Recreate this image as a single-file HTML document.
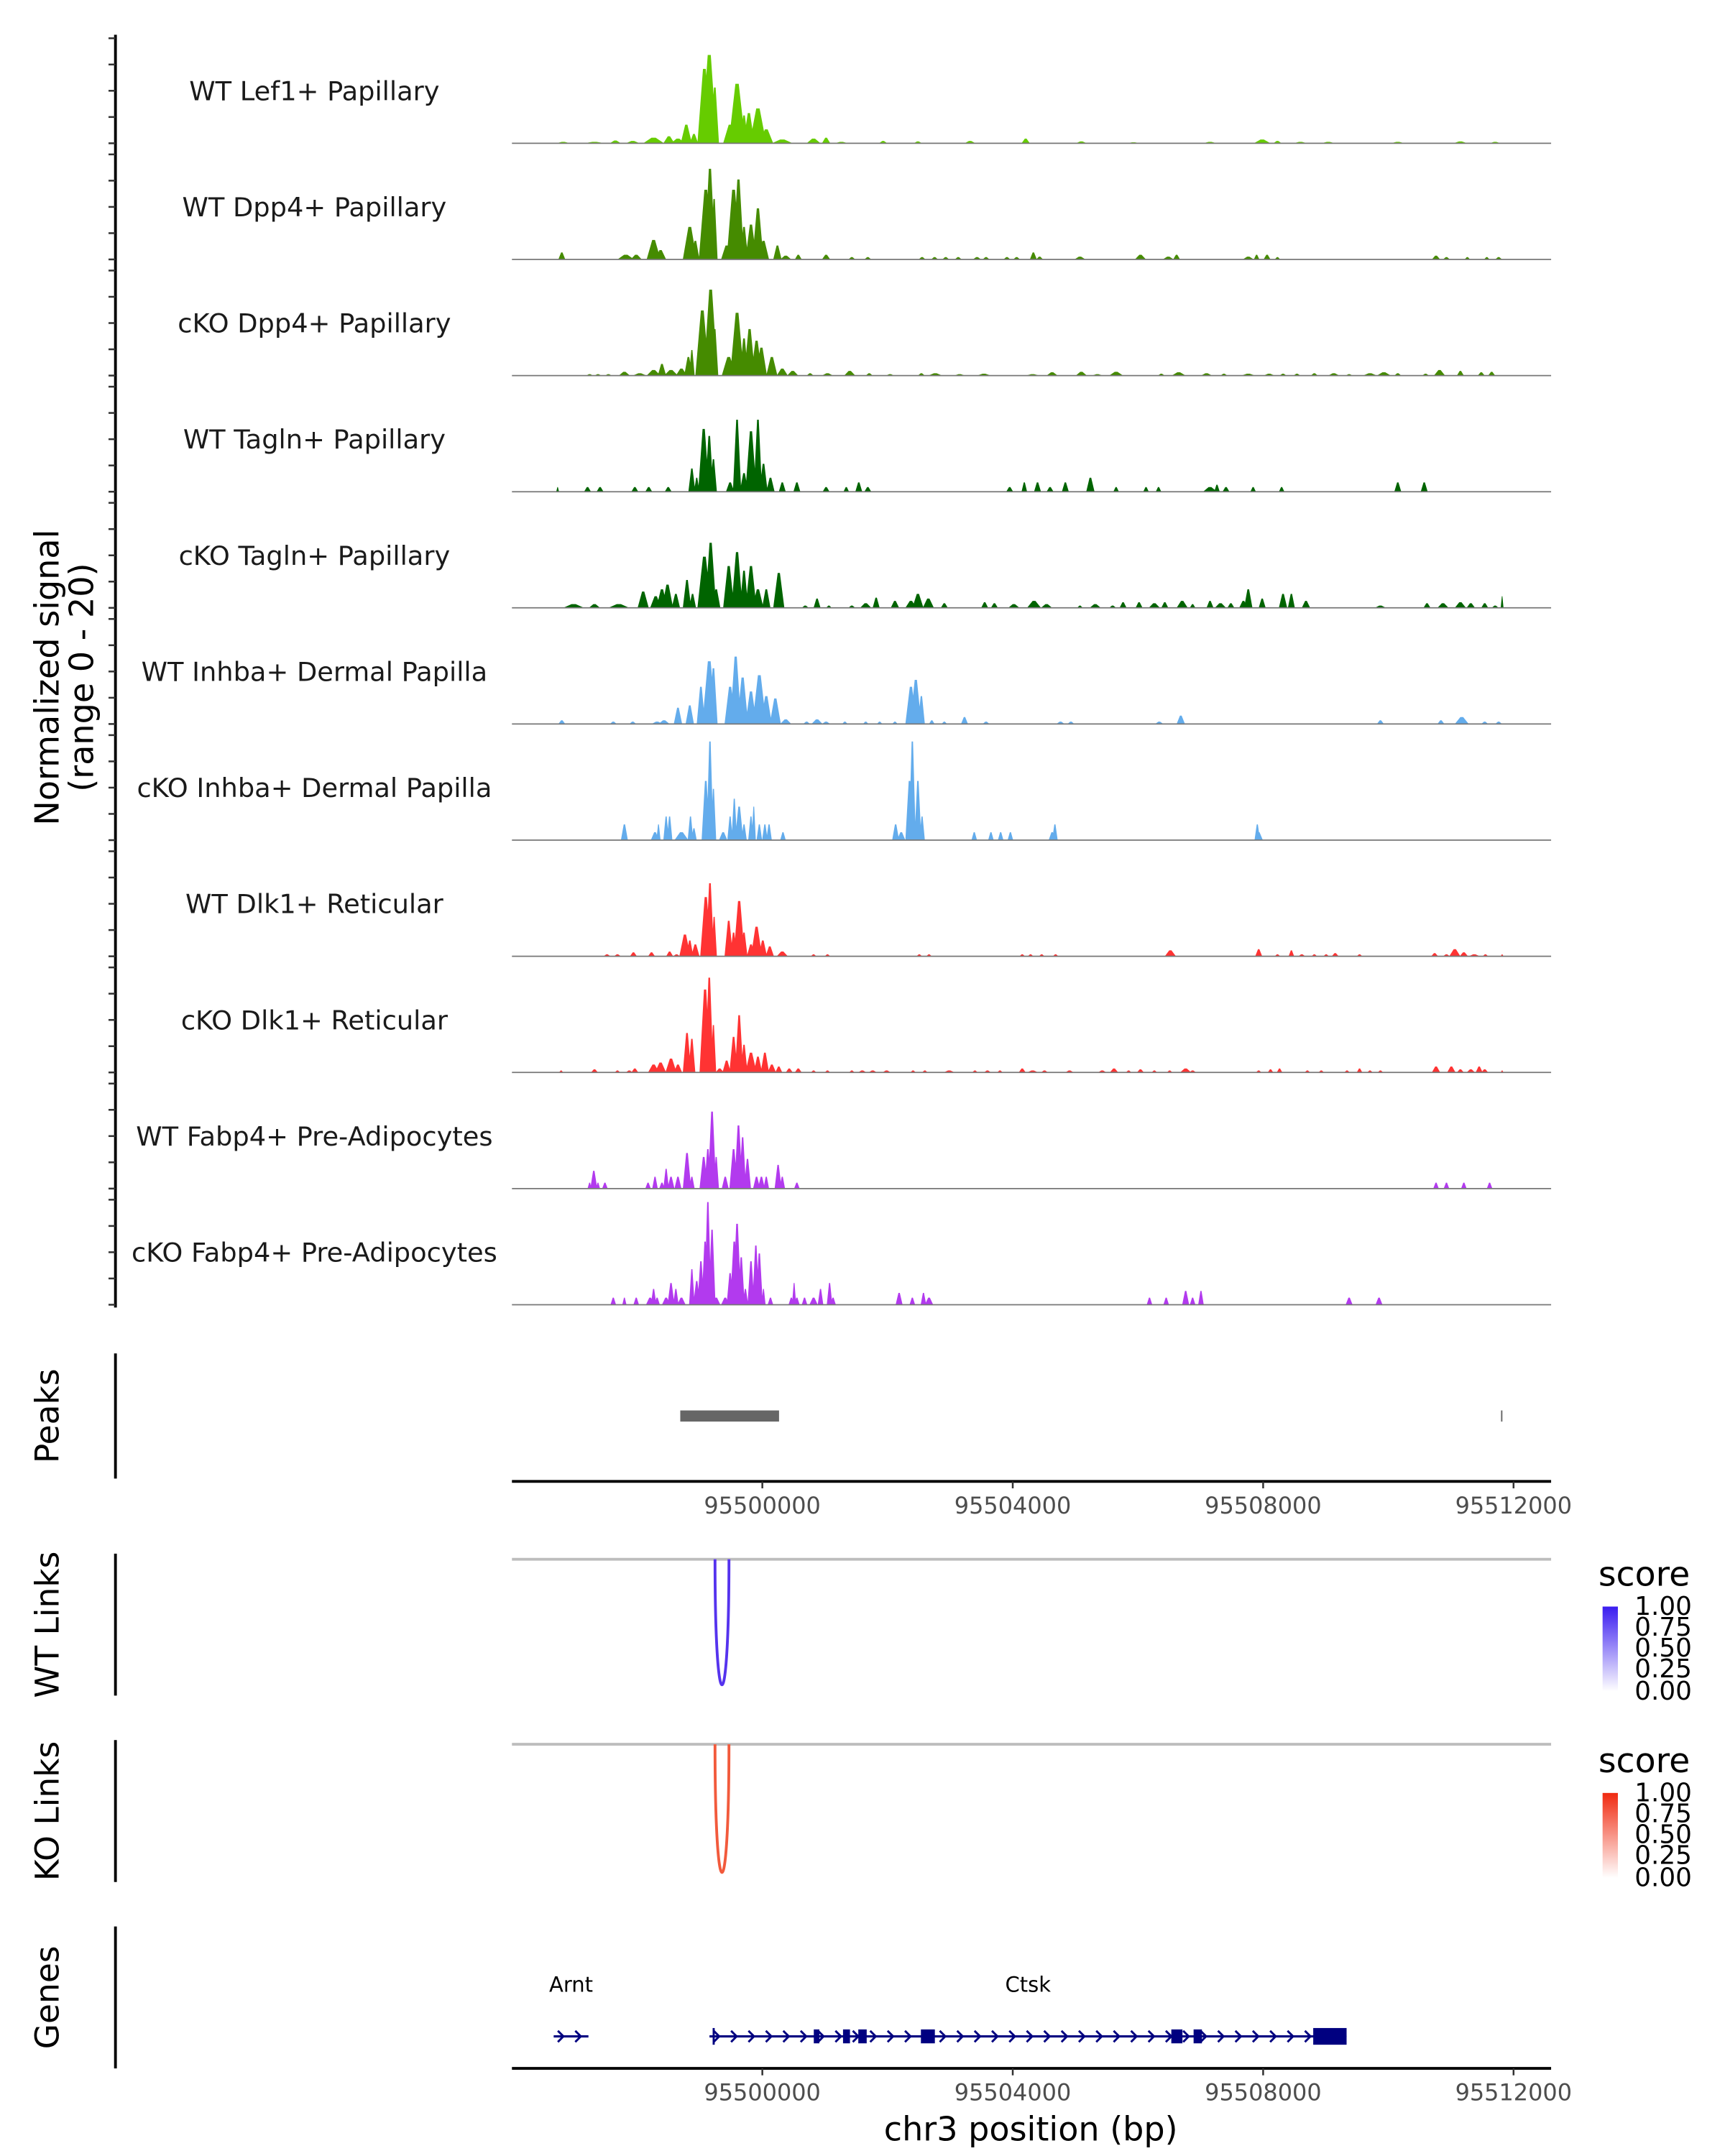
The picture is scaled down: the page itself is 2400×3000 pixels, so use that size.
<!DOCTYPE html>
<html><head><meta charset="utf-8">
<style>
html,body{margin:0;padding:0;background:#fff;}
svg{display:block;font-family:"DejaVu Sans","Liberation Sans",sans-serif;}
</style></head>
<body>
<svg id="chart" xmlns="http://www.w3.org/2000/svg" width="2400" height="3000" viewBox="0 0 1240 1550">
<rect x="0" y="0" width="1240" height="1550" fill="#fff"/>
<g id="tracks"></g>
<g id="leftaxis"></g>
<text transform="translate(42,487) rotate(-90)" text-anchor="middle" font-size="23.8" fill="#000">Normalized signal</text>
<text transform="translate(67,487) rotate(-90)" text-anchor="middle" font-size="23.8" fill="#000">(range 0 - 20)</text>

<line x1="83" y1="973" x2="83" y2="1063" stroke="#000" stroke-width="2"/>
<text transform="translate(42,1018) rotate(-90)" text-anchor="middle" font-size="23.5">Peaks</text>
<g id="peaks"></g>
<g id="xaxis1"></g>

<line x1="83" y1="1117" x2="83" y2="1219" stroke="#000" stroke-width="2"/>
<text transform="translate(42,1168) rotate(-90)" text-anchor="middle" font-size="23.5">WT Links</text>
<line x1="368" y1="1121" x2="1115" y2="1121" stroke="#bdbdbd" stroke-width="2"/>
<g id="wtlinks"></g>

<line x1="83" y1="1251" x2="83" y2="1353" stroke="#000" stroke-width="2"/>
<text transform="translate(42,1302) rotate(-90)" text-anchor="middle" font-size="23.5">KO Links</text>
<line x1="368" y1="1254" x2="1115" y2="1254" stroke="#bdbdbd" stroke-width="2"/>
<g id="kolinks"></g>

<defs>
<linearGradient id="gblue" x1="0" y1="1" x2="0" y2="0"><stop offset="0" stop-color="#ffffff"/><stop offset="1" stop-color="#3a1cf0"/></linearGradient>
<linearGradient id="gred" x1="0" y1="1" x2="0" y2="0"><stop offset="0" stop-color="#ffffff"/><stop offset="1" stop-color="#f02a10"/></linearGradient>
</defs>
<g>
<text x="1149" y="1140" font-size="24.5">score</text>
<rect x="1152" y="1155" width="11" height="61" fill="url(#gblue)"/>
<g font-size="18.5" fill="#000">
<text x="1175" y="1161">1.00</text>
<text x="1175" y="1176">0.75</text>
<text x="1175" y="1191">0.50</text>
<text x="1175" y="1206">0.25</text>
<text x="1175" y="1222">0.00</text>
</g></g>
<g>
<text x="1149" y="1274" font-size="24.5">score</text>
<rect x="1152" y="1289" width="11" height="61" fill="url(#gred)"/>
<g font-size="18.5" fill="#000">
<text x="1175" y="1295">1.00</text>
<text x="1175" y="1310">0.75</text>
<text x="1175" y="1325">0.50</text>
<text x="1175" y="1340">0.25</text>
<text x="1175" y="1356">0.00</text>
</g></g>

<line x1="83" y1="1385" x2="83" y2="1487" stroke="#000" stroke-width="2"/>
<text transform="translate(42,1436) rotate(-90)" text-anchor="middle" font-size="23.5">Genes</text>
<g id="genes"></g>
<g id="xaxis2"></g>
<text x="741" y="1539" text-anchor="middle" font-size="23.8">chr3 position (bp)</text>
</svg>
<script>
const trackNames=["WT Lef1+ Papillary","WT Dpp4+ Papillary","cKO Dpp4+ Papillary","WT Tagln+ Papillary","cKO Tagln+ Papillary","WT Inhba+ Dermal Papilla","cKO Inhba+ Dermal Papilla","WT Dlk1+ Reticular","cKO Dlk1+ Reticular","WT Fabp4+ Pre-Adipocytes","cKO Fabp4+ Pre-Adipocytes"];
const trackColors=["#66cc00","#458b00","#458b00","#006400","#006400","#63acec","#63acec","#ff3333","#ff3333","#b23aee","#b23aee"];
const trackMax=[226,226,226,226,226,226,266,266,266,266,266];
const xTicks=[95500000,95504000,95508000,95512000];
const xTickLabels=["95500000","95504000","95508000","95512000"];
// coverage peaks: bin index (11.11 bp bins from 95495930), value, half-width (bins)
const lef1Bin=[80,125,155,180,210,232,245,257,268,283,290,298,320,330,340,347,360,372,395,440,458,480,540,590,665,745,825,900,1010,1085,1107,1140,1180,1280,1370,1420];
const lef1Val=[3,3,6,5,12,15,10,40,20,160,190,120,40,128,60,65,75,30,8,10,12,3,5,4,5,10,4,2,3,8,5,3,3,3,4,3];
const lef1Hw=[10,15,8,10,15,8,10,8,6,10,11,6,10,12,6,8,12,10,15,10,6,10,6,6,8,6,8,10,10,12,6,10,10,10,10,8];
const dpp4wtBin=[78,170,185,210,220,262,270,285,291,297,315,325,332,340,350,360,368,388,400,418,458,495,518,596,614,630,648,675,688,718,732,756,765,823,910,950,962,1065,1077,1092,1107,1335,1350,1380,1408,1425];
const dpp4wtVal=[15,10,10,42,20,70,40,150,195,130,30,150,172,70,75,110,40,30,8,10,10,5,5,5,5,5,5,5,5,5,5,15,6,6,10,6,10,6,10,10,5,8,5,5,5,5];
const dpp4wtHw=[5,12,8,10,8,10,6,10,8,5,8,10,8,6,8,8,8,6,8,5,6,5,5,5,5,5,5,6,5,5,5,5,5,8,8,8,5,8,4,5,4,6,5,4,4,5];
const dpp4koBin=[118,130,145,168,190,210,222,235,250,260,265,280,292,298,318,330,340,348,358,365,380,395,410,435,460,492,520,550,595,615,650,685,755,783,825,848,875,940,965,1005,1030,1065,1095,1115,1135,1160,1188,1210,1240,1260,1280,1320,1340,1370,1400,1415];
const dpp4koVal=[3,3,3,8,5,12,25,12,15,40,55,140,185,100,40,135,80,100,75,60,40,15,10,5,5,10,5,3,5,5,3,4,3,7,8,3,8,4,7,5,4,4,4,4,4,5,5,3,5,7,5,4,12,10,7,8];
const dpp4koHw=[5,5,5,8,10,10,6,10,8,6,4,10,10,5,10,10,6,8,8,8,8,8,8,5,8,8,5,6,5,10,8,10,10,8,8,8,10,5,10,8,5,10,8,5,5,5,8,5,10,10,5,5,8,5,5,5];
const taglnwtBin=[72,115,133,183,203,231,265,272,282,290,296,320,330,340,350,360,368,378,395,416,458,487,505,518,722,743,762,780,802,838,875,918,936,1010,1020,1033,1072,1113,1280,1318];
const taglnwtVal=[10,10,10,10,10,10,50,30,135,120,70,20,155,40,130,155,60,30,20,20,10,10,20,10,10,20,20,10,20,30,10,10,10,10,15,10,10,10,20,20];
const taglnwtHw=[2,5,5,5,5,5,5,4,8,6,5,6,6,6,8,6,6,6,5,5,5,4,5,5,5,4,5,5,5,6,4,4,4,10,4,5,4,4,5,5];
const taglnkoBin=[95,125,160,195,213,222,230,242,258,266,283,292,300,318,330,340,350,360,372,390,428,445,462,495,515,530,557,580,590,605,628,686,700,728,757,775,823,845,870,885,908,930,945,970,985,1010,1025,1040,1058,1065,1085,1115,1127,1148,1255,1322,1345,1370,1385,1405,1420,1430];
const taglnkoVal=[8,8,8,35,25,40,50,30,60,30,110,140,40,90,120,80,90,40,40,75,5,20,5,5,10,22,15,15,30,20,10,12,10,8,15,8,5,8,5,12,12,10,12,15,8,15,10,10,15,40,20,30,30,15,5,10,10,12,10,10,5,25];
const taglnkoHw=[15,8,15,8,8,8,8,6,6,5,10,8,6,8,8,6,8,8,6,8,5,5,4,5,8,5,6,8,8,8,5,5,5,8,10,8,4,8,5,5,5,8,5,8,4,5,8,5,6,6,5,6,5,6,8,5,8,8,6,5,5,2];
const inhbawtBin=[78,152,180,215,225,245,262,278,290,296,320,328,338,350,362,372,385,400,430,445,458,485,515,535,557,580,587,595,610,628,657,688,795,810,937,968,1255,1342,1372,1405,1425];
const inhbawtVal=[8,5,5,5,8,35,40,80,135,120,80,145,100,70,105,60,55,10,5,10,5,5,5,5,5,80,95,60,8,5,15,5,5,5,5,18,8,8,15,5,5];
const inhbawtHw=[5,5,5,8,8,6,6,6,10,6,8,8,8,8,10,8,8,8,5,8,6,4,4,4,4,8,8,5,4,4,5,5,6,5,6,6,5,5,10,5,5];
const inhbakoBin=[168,212,217,228,233,250,263,268,285,291,296,310,320,326,333,340,350,354,362,370,376,396,558,566,578,582,590,596,671,695,709,723,783,787,1078,1080];
const inhbakoVal=[40,20,40,60,60,20,60,30,150,250,130,20,60,105,85,40,60,85,40,40,40,20,40,20,150,250,150,60,20,20,20,20,20,40,40,20];
const inhbakoHw=[5,6,3,4,4,10,4,4,6,5,4,6,4,4,6,4,4,3,4,4,4,4,5,6,6,5,5,4,4,4,4,4,5,4,4,6];
const dlk1wtBin=[143,158,181,207,233,243,255,262,270,285,291,297,318,325,333,340,350,358,367,377,395,440,460,592,606,740,752,768,788,953,1080,1107,1127,1142,1160,1177,1190,1225,1333,1350,1362,1375,1390,1406,1430];
const dlk1wtVal=[5,5,10,10,12,5,55,40,30,150,185,100,90,60,140,60,30,75,40,25,12,5,5,5,5,5,5,5,5,15,18,5,15,5,5,5,8,5,8,5,18,10,5,5,5];
const dlk1wtHw=[5,5,5,5,5,5,8,5,6,8,6,4,6,5,8,5,6,8,6,6,8,4,4,4,4,4,4,4,4,8,5,4,4,5,4,4,5,4,5,5,8,6,8,4,2];
const dlk1koBin=[77,125,158,175,183,210,220,235,245,258,265,284,290,296,305,315,325,333,340,350,360,370,380,390,405,418,440,460,495,510,525,545,583,600,635,672,690,708,740,755,772,808,855,872,893,910,930,952,975,985,1080,1097,1110,1150,1170,1207,1225,1240,1255,1335,1357,1370,1385,1397,1405,1430];
const dlk1koVal=[5,8,5,5,10,20,25,35,20,100,85,210,240,120,10,30,90,145,70,50,40,50,20,15,10,10,5,5,5,5,5,5,5,5,5,5,5,5,10,5,5,5,5,10,5,8,5,5,10,5,5,8,10,5,5,5,10,5,5,15,15,8,8,15,8,5];
const dlk1koHw=[3,5,4,5,5,8,8,8,6,6,5,8,6,4,6,6,6,6,5,8,6,6,6,5,5,5,4,4,4,6,6,6,4,4,8,4,5,4,5,8,5,6,6,6,4,5,4,4,8,5,4,4,4,4,4,4,4,4,4,6,6,5,6,5,5,2];
const fabp4wtBin=[118,124,130,140,202,212,222,228,235,245,258,265,282,288,294,300,313,325,332,338,345,358,365,372,389,395,416,1335,1350,1375,1412];
const fabp4wtVal=[15,45,15,15,15,30,15,50,30,30,90,30,80,100,195,80,30,100,160,130,75,30,30,30,60,30,15,15,15,15,15];
const fabp4wtHw=[3,5,3,4,4,4,4,4,5,5,6,4,6,5,6,4,5,6,6,5,5,5,5,4,5,4,4,4,4,4,4];
const fabp4koBin=[152,168,185,205,210,215,228,235,242,250,265,272,278,284,288,294,300,313,320,326,330,336,342,350,357,362,368,378,408,412,416,427,440,450,463,468,563,582,598,606,923,947,975,985,997,1210,1253];
const fabp4koVal=[18,18,18,18,40,18,18,55,40,18,90,60,110,160,260,190,18,18,80,160,205,120,40,110,150,130,40,18,18,55,18,18,18,40,55,18,30,18,30,18,18,18,35,18,35,18,18];
const fabp4koHw=[4,3,4,6,4,4,6,5,4,6,4,5,5,5,5,5,6,6,5,6,6,5,4,5,5,5,3,4,4,3,4,4,6,4,4,4,5,4,4,6,4,4,5,4,4,5,5];
const trackBins=[lef1Bin,dpp4wtBin,dpp4koBin,taglnwtBin,taglnkoBin,inhbawtBin,inhbakoBin,dlk1wtBin,dlk1koBin,fabp4wtBin,fabp4koBin];
const trackVals=[lef1Val,dpp4wtVal,dpp4koVal,taglnwtVal,taglnkoVal,inhbawtVal,inhbakoVal,dlk1wtVal,dlk1koVal,fabp4wtVal,fabp4koVal];
const trackHws=[lef1Hw,dpp4wtHw,dpp4koHw,taglnwtHw,taglnkoHw,inhbawtHw,inhbakoHw,dlk1wtHw,dlk1koHw,fabp4wtHw,fabp4koHw];
const peakStarts=[95498689,95511800];
const peakEnds=[95500267,95511822];
const wtLinkStart=[95499244];const wtLinkEnd=[95499467];const wtLinkScore=[1.0];
const koLinkStart=[95499244];const koLinkEnd=[95499467];const koLinkScore=[1.0];
const geneNames=["Arnt","Ctsk"];
const geneStarts=[95496667,95499156];
const geneEnds=[95497222,95509333];
const exonStarts=[95500822,95501289,95501533,95502533,95506533,95506889,95508800];
const exonEnds=[95500911,95501400,95501667,95502756,95506711,95507022,95509333];

const NS="http://www.w3.org/2000/svg";
const BIN0=95495930,BINSZ=11.11;
const PL=368,PR=1115;
function xs(bp){return PL+(bp-95496000)*0.045;}
function bx(b){return xs(BIN0+b*BINSZ);}
function mk(tag,attrs,parent){const e=document.createElementNS(NS,tag);for(const k in attrs)e.setAttribute(k,attrs[k]);parent.appendChild(e);return e;}

const tracks=document.getElementById('tracks');
const laxis=document.getElementById('leftaxis');
const ax=mk('line',{x1:83,y1:25,x2:83,y2:940,stroke:'#000','stroke-width':2},laxis);


for(let i=0;i<11;i++){
  const base=103+i*83.5, th=75.5;
  const g=mk('g',{},tracks);
  
  
  for(let t=0;t<=4;t++){
    const y=base-t*th/4;
    const tk=mk('line',{x1:78,y1:y,x2:83,y2:y,stroke:'#333','stroke-width':1.3},laxis);
    
    
  }
  const lab=mk('text',{x:226,y:base-31,'text-anchor':'middle','font-size':19,fill:'#1a1a1a'},g);
  lab.textContent=trackNames[i];
  
  
  const bins=trackBins[i],vals=trackVals[i],hws=trackHws[i];
  let d='';
  for(let j=0;j<bins.length;j++){
    const h=vals[j]/trackMax[i]*th;
    const x0=Math.max(PL,bx(bins[j]-hws[j])),x3=Math.min(PR,bx(bins[j]+hws[j]));
    const x1=bx(bins[j]-hws[j]*0.2),x2=bx(bins[j]+hws[j]*0.2);
    d+='M'+x0.toFixed(2)+' '+base+'L'+x1.toFixed(2)+' '+(base-h).toFixed(2)+'L'+x2.toFixed(2)+' '+(base-h).toFixed(2)+'L'+x3.toFixed(2)+' '+base+'Z';
  }
  const p=mk('path',{d:d,fill:trackColors[i]},g);
  
  
  const bl=mk('line',{x1:PL,y1:base,x2:PR,y2:base,stroke:'#777','stroke-width':0.9},g);
  
  
}
const pk=document.getElementById('peaks');
for(let i=0;i<peakStarts.length;i++){
  const w=Math.max(1,xs(peakEnds[i])-xs(peakStarts[i]));
  const r=mk('rect',{x:xs(peakStarts[i]),y:1014,width:w,height:8,fill:'#666'},pk);
  
  
}
function drawAxis(id,y,ly){
  const g=document.getElementById(id);
  const l=mk('line',{x1:PL,y1:y,x2:PR,y2:y,stroke:'#000','stroke-width':2},g);
  
  
  for(let i=0;i<xTicks.length;i++){
    const x=xs(xTicks[i]);
    const t=mk('line',{x1:x,y1:y,x2:x,y2:y+5,stroke:'#333','stroke-width':1.3},g);
    
    
    const tx=mk('text',{x:x,y:ly,'text-anchor':'middle','font-size':16.5,fill:'#4d4d4d'},g);
    tx.textContent=xTickLabels[i];
    
    
  }
}
drawAxis('xaxis1',1065,1088);
drawAxis('xaxis2',1487,1510);
function drawLinks(id,s,e,sc,top,depth,color){
  const g=document.getElementById(id);
  for(let i=0;i<s.length;i++){
    const a=xs(s[i]),b=xs(e[i]),bot=top+depth*1.28;
    const p=mk('path',{d:'M'+a+' '+top+' C'+a+' '+bot+' '+b+' '+bot+' '+b+' '+top,fill:'none',stroke:color,'stroke-width':2,'stroke-opacity':sc[i]},g);
    
    
  }
}
drawLinks('wtlinks',wtLinkStart,wtLinkEnd,wtLinkScore,1121,94,'#5533ee');
drawLinks('kolinks',koLinkStart,koLinkEnd,koLinkScore,1254,96,'#f25a3c');
const gg=document.getElementById('genes');
const GY=1464,NAVY='#000080';
for(let i=0;i<geneNames.length;i++){
  const a=xs(geneStarts[i]),b=xs(geneEnds[i]);
  const l=mk('line',{x1:a,y1:GY,x2:b,y2:GY,stroke:NAVY,'stroke-width':1.6},gg);
  
  
  for(let x=a+3;x<b-3;x+=12.5){
    const c=mk('path',{d:'M'+x+' '+(GY-4)+' L'+(x+4)+' '+GY+' L'+x+' '+(GY+4),fill:'none',stroke:NAVY,'stroke-width':1.5},gg);
    
    
  }
  const t=mk('text',{x:(a+b)/2,y:1432,'text-anchor':'middle','font-size':15,fill:'#000'},gg);
  t.textContent=geneNames[i];
  
  
}
const tick=mk('line',{x1:xs(geneStarts[1])+3,y1:GY-6,x2:xs(geneStarts[1])+3,y2:GY+6,stroke:NAVY,'stroke-width':1.5},gg);


for(let i=0;i<exonStarts.length;i++){
  const big=(exonEnds[i]-exonStarts[i])>400;
  const hh=big?12:10;
  const r=mk('rect',{x:xs(exonStarts[i]),y:GY-hh/2,width:Math.max(3,xs(exonEnds[i])-xs(exonStarts[i])),height:hh,fill:NAVY},gg);
  
  
}
</script>
</body></html>
